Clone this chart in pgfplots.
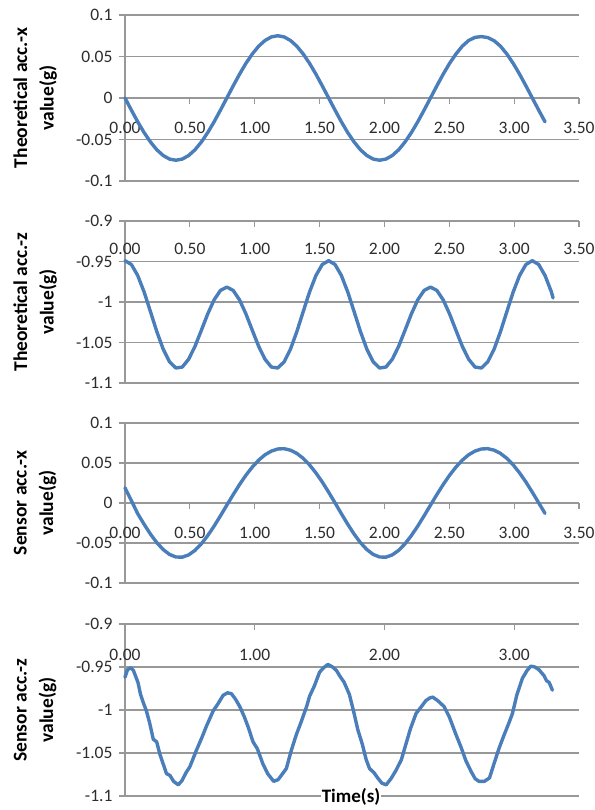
\documentclass[border=0pt]{standalone}
\usepackage{pgfplots}
\pgfplotsset{compat=1.18}
\usepackage{fontspec}
\setmainfont{Carlito}
\definecolor{exblue}{RGB}{74,126,187}
\definecolor{gridgray}{RGB}{152,152,152}
\definecolor{labgray}{RGB}{45,45,45}
\pgfplotsset{
 panel/.style={
  scale only axis, width=454pt, xmin=0, xmax=3.5,
  axis y line*=left,
  ymajorgrids, major grid style={draw=gridgray, line width=1.2pt},
  axis line style={draw=gridgray, line width=1.2pt},
  tick style={draw=gridgray, line width=1.2pt},
  major tick length=6pt,
  hide obscured x ticks=false, hide obscured y ticks=false,
  ytick align=outside,
  tick label style={font=\fontsize{17.5}{19}\selectfont, text=labgray},
  yticklabel style={xshift=-3pt},
  /pgf/number format/assume math mode=true,
  every axis y label/.style={at={(axis description cs:-0.198,0.5)}, rotate=90, anchor=center, align=center, font=\fontsize{19.5}{26.6}\selectfont\bfseries},
  clip=false,
 },
 curve/.style={color=exblue, line width=3.4pt, line join=round, line cap=round},
}
\begin{document}
\begin{tikzpicture}
\useasboundingbox (0,0) rectangle (594pt,810pt);
% Panel 1: Theoretical acc.-x
\begin{axis}[panel, at={(125pt,629pt)}, anchor=south west, height=166pt,
  ymin=-0.1, ymax=0.1, ytick={-0.1,-0.05,0,0.05,0.1}, yticklabels={-0.1,-0.05,0,0.05,0.1},
  axis x line*=middle, xtick align=outside,
  xtick={0,0.5,1,1.5,2,2.5,3,3.5}, xticklabels={0.00,0.50,1.00,1.50,2.00,2.50,3.00,3.50},
  xticklabel style={anchor=center, yshift=-24pt},
  ylabel={Theoretical acc.-x\\value(g)}]
\addplot[curve] table {
0 0
0.0491 -0.0146
0.0981 -0.0287
0.1472 -0.0417
0.1963 -0.0530
0.2453 -0.0624
0.2944 -0.0693
0.3434 -0.0736
0.3925 -0.0750
0.4416 -0.0736
0.4906 -0.0693
0.5397 -0.0624
0.5888 -0.0530
0.6378 -0.0417
0.6869 -0.0287
0.7359 -0.0146
0.7850 0
0.8341 0.0146
0.8831 0.0287
0.9322 0.0417
0.9813 0.0530
1.0303 0.0624
1.0794 0.0693
1.1284 0.0736
1.1775 0.0750
1.2266 0.0736
1.2756 0.0693
1.3247 0.0624
1.3738 0.0530
1.4228 0.0417
1.4719 0.0287
1.5209 0.0146
1.5700 0
1.6191 -0.0146
1.6681 -0.0287
1.7172 -0.0417
1.7663 -0.0530
1.8153 -0.0624
1.8644 -0.0693
1.9134 -0.0736
1.9625 -0.0750
2.0116 -0.0736
2.0606 -0.0693
2.1097 -0.0624
2.1588 -0.0530
2.2078 -0.0417
2.2569 -0.0287
2.3059 -0.0146
2.3550 0
2.4041 0.0146
2.4531 0.0287
2.5022 0.0417
2.5513 0.0530
2.6003 0.0624
2.6494 0.0693
2.6984 0.0730
2.7475 0.0740
2.7966 0.0728
2.8456 0.0690
2.8947 0.0624
2.9438 0.0530
2.9928 0.0417
3.0419 0.0287
3.0909 0.0146
3.1400 0
3.1891 -0.0146
3.2381 -0.0287
};
\end{axis}
% Panel 2: Theoretical acc.-z
\begin{axis}[panel, at={(125pt,427pt)}, anchor=south west, height=162pt,
  ymin=-1.1, ymax=-0.9, ytick={-1.1,-1.05,-1,-0.95,-0.9}, yticklabels={-1.1,-1.05,-1,-0.95,-0.9},
  axis x line*=top, xtick align=inside,
  xtick={0,0.5,1,1.5,2,2.5,3,3.5}, xticklabels={0.00,0.50,1.00,1.50,2.00,2.50,3.00,3.50},
  xticklabel style={anchor=center, yshift=-28pt},
  ylabel={Theoretical acc.-z\\value(g)}]
\addplot[curve] table {
0 -0.9490
0.0491 -0.9537
0.0981 -0.9673
0.1472 -0.9876
0.1963 -1.0119
0.2453 -1.0366
0.2944 -1.0582
0.3434 -1.0739
0.3925 -1.0815
0.4416 -1.0803
0.4906 -1.0707
0.5397 -1.0547
0.5888 -1.0349
0.6378 -1.0147
0.6869 -0.9974
0.7359 -0.9857
0.7850 -0.9816
0.8341 -0.9857
0.8831 -0.9974
0.9322 -1.0147
0.9813 -1.0349
1.0303 -1.0547
1.0794 -1.0707
1.1284 -1.0803
1.1775 -1.0815
1.2266 -1.0739
1.2756 -1.0582
1.3247 -1.0366
1.3738 -1.0119
1.4228 -0.9876
1.4719 -0.9673
1.5209 -0.9537
1.5700 -0.9490
1.6191 -0.9537
1.6681 -0.9673
1.7172 -0.9876
1.7663 -1.0119
1.8153 -1.0366
1.8644 -1.0582
1.9134 -1.0739
1.9625 -1.0815
2.0116 -1.0803
2.0606 -1.0707
2.1097 -1.0547
2.1588 -1.0349
2.2078 -1.0147
2.2569 -0.9974
2.3059 -0.9857
2.3550 -0.9816
2.4041 -0.9857
2.4531 -0.9974
2.5022 -1.0147
2.5513 -1.0349
2.6003 -1.0547
2.6494 -1.0707
2.6984 -1.0803
2.7475 -1.0815
2.7966 -1.0739
2.8456 -1.0582
2.8947 -1.0366
2.9438 -1.0119
2.9928 -0.9876
3.0419 -0.9673
3.0909 -0.9537
3.1400 -0.9490
3.1891 -0.9537
3.2381 -0.9673
3.2872 -0.9876
3.3000 -0.9950
};
\end{axis}
% Panel 3: Sensor acc.-x
\begin{axis}[panel, at={(125pt,227pt)}, anchor=south west, height=160pt,
  ymin=-0.1, ymax=0.1, ytick={-0.1,-0.05,0,0.05,0.1}, yticklabels={-0.1,-0.05,0,0.05,0.1},
  axis x line*=middle, xtick align=outside,
  xtick={0,0.5,1,1.5,2,2.5,3,3.5}, xticklabels={0.00,0.50,1.00,1.50,2.00,2.50,3.00,3.50},
  xticklabel style={anchor=center, yshift=-24pt},
  ylabel={Sensor acc.-x\\value(g)}]
\addplot[curve] table {
0 0.0190
0.0491 0.0030
0.0981 -0.0134
0.1472 -0.0266
0.1963 -0.0389
0.2453 -0.0496
0.2944 -0.0582
0.3434 -0.0643
0.3925 -0.0675
0.4416 -0.0677
0.4906 -0.0649
0.5397 -0.0592
0.5888 -0.0510
0.6378 -0.0407
0.6869 -0.0289
0.7359 -0.0160
0.7850 -0.0027
0.8341 0.0105
0.8831 0.0231
0.9322 0.0347
0.9813 0.0449
1.0303 0.0535
1.0794 0.0603
1.1284 0.0649
1.1775 0.0675
1.2266 0.0679
1.2756 0.0660
1.3247 0.0620
1.3738 0.0558
1.4228 0.0476
1.4719 0.0376
1.5209 0.0262
1.5700 0.0135
1.6191 0.0002
1.6681 -0.0134
1.7172 -0.0266
1.7663 -0.0389
1.8153 -0.0496
1.8644 -0.0582
1.9134 -0.0643
1.9625 -0.0675
2.0116 -0.0677
2.0606 -0.0649
2.1097 -0.0592
2.1588 -0.0510
2.2078 -0.0407
2.2569 -0.0289
2.3059 -0.0160
2.3550 -0.0027
2.4041 0.0105
2.4531 0.0231
2.5022 0.0347
2.5513 0.0449
2.6003 0.0535
2.6494 0.0603
2.6984 0.0649
2.7475 0.0675
2.7966 0.0679
2.8456 0.0660
2.8947 0.0620
2.9438 0.0558
2.9928 0.0476
3.0419 0.0376
3.0909 0.0262
3.1400 0.0135
3.1891 0.0002
3.2381 -0.0130
};
\end{axis}
% Panel 4: Sensor acc.-z
\begin{axis}[panel, at={(125pt,14pt)}, anchor=south west, height=172pt,
  ymin=-1.1, ymax=-0.9, ytick={-1.1,-1.05,-1,-0.95,-0.9}, yticklabels={-1.1,-1.05,-1,-0.95,-0.9},
  axis x line*=top, xtick align=inside,
  xtick={0,1,2,3}, xticklabels={0.00,1.00,2.00,3.00},
  xticklabel style={anchor=center, yshift=-31pt},
  ylabel={Sensor acc.-z\\value(g)},
  xlabel={Time(s)},
  every axis x label/.style={at={(axis description cs:0.498,0)}, anchor=center, yshift=-1pt, fill=white, inner sep=1pt, font=\fontsize{19}{20}\selectfont\bfseries}]
\addplot[curve] table {
0.000 -0.962
0.020 -0.953
0.045 -0.951
0.065 -0.954
0.100 -0.968
0.120 -0.982
0.140 -0.991
0.165 -1.001
0.190 -1.015
0.218 -1.034
0.244 -1.037
0.270 -1.052
0.295 -1.063
0.320 -1.074
0.346 -1.076
0.375 -1.083
0.410 -1.087
0.440 -1.082
0.470 -1.073
0.500 -1.066
0.550 -1.047
0.590 -1.033
0.630 -1.018
0.680 -1.001
0.720 -0.992
0.756 -0.983
0.790 -0.980
0.820 -0.981
0.850 -0.987
0.885 -0.996
0.920 -1.008
0.950 -1.020
0.987 -1.037
1.020 -1.045
1.064 -1.063
1.100 -1.074
1.146 -1.083
1.180 -1.081
1.210 -1.075
1.244 -1.068
1.280 -1.048
1.320 -1.029
1.360 -1.013
1.400 -0.996
1.423 -0.984
1.460 -0.972
1.500 -0.956
1.530 -0.951
1.564 -0.947
1.600 -0.950
1.630 -0.954
1.654 -0.960
1.690 -0.968
1.730 -0.982
1.760 -1.000
1.795 -1.023
1.830 -1.040
1.860 -1.058
1.885 -1.068
1.920 -1.073
1.948 -1.079
1.980 -1.085
2.013 -1.087
2.050 -1.080
2.090 -1.070
2.130 -1.058
2.167 -1.039
2.200 -1.022
2.244 -1.004
2.280 -0.997
2.320 -0.989
2.350 -0.986
2.372 -0.985
2.410 -0.989
2.460 -0.996
2.500 -1.008
2.550 -1.028
2.590 -1.043
2.628 -1.059
2.670 -1.072
2.700 -1.080
2.730 -1.083
2.770 -1.083
2.810 -1.079
2.850 -1.060
2.885 -1.044
2.920 -1.030
2.960 -1.015
2.987 -1.004
3.020 -0.983
3.064 -0.963
3.100 -0.954
3.128 -0.949
3.160 -0.950
3.190 -0.953
3.230 -0.960
3.250 -0.966
3.270 -0.968
3.295 -0.977
};
\end{axis}
\end{tikzpicture}
\end{document}
